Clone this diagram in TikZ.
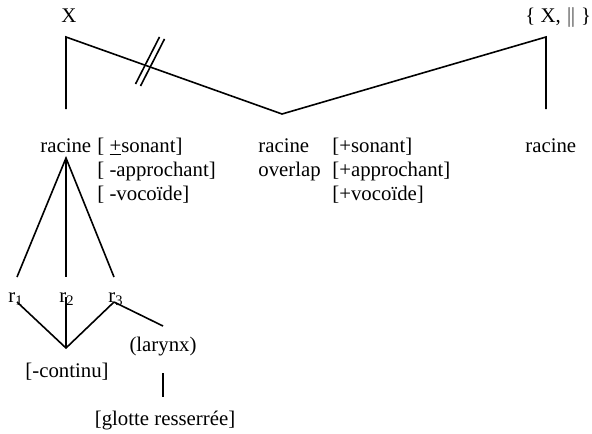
\documentclass[tikz,border=0pt]{standalone}
\usepackage{fontspec}
\setmainfont{Liberation Serif}
\usetikzlibrary{positioning,calc}

\tikzset{
    lbl/.style={inner sep=0pt, anchor=base west},
    clbl/.style={inner sep=0pt, anchor=base},
    branch/.style={line width=0.8pt}
}

\begin{document}
\begin{tikzpicture}[x=0.5pt, y=-0.5pt, every node/.style={font=\fontsize{10.4}{12.5}\selectfont}]
    \useasboundingbox (0,0) rectangle (592,433);

    % --- Top tier: X and { X, || } ---
    \node[clbl] (xslot) at (69,23) {X};
    \node[lbl] (xset) at (525,23) {\{ X, $\|$ \}};
    \coordinate (xtop) at (66,37);
    \coordinate (xbot) at (66,109);
    \coordinate (trough) at (282,114);
    \coordinate (settop) at (546,37);
    \coordinate (setbot) at (546,109);
    \draw[branch] (xbot) -- (xtop) -- (trough) -- (settop) -- (setbot);
    % Delinking mark
    \draw[branch] (135.5,84) -- (159.5,37);
    \draw[branch] (140.5,86) -- (164.5,39);

    % --- Root tier ---
    \node[lbl] (rootA) at (40,152) {racine};
    \node[lbl] (sonA) at (97,152) {[ \underline{+}sonant]};
    \node[lbl] (appA) at (97,176) {[ -approchant]};
    \node[lbl] (vocA) at (97,200) {[ -vocoïde]};

    \node[lbl] (rootB) at (258,152) {racine};
    \node[lbl] (ovlp) at (258,176) {overlap};
    \node[lbl] (sonB) at (332,152) {[+sonant]};
    \node[lbl] (appB) at (332,176) {[+approchant]};
    \node[lbl] (vocB) at (332,200) {[+vocoïde]};

    \node[lbl] (rootC) at (525,152) {racine};

    % --- Closures under the first root ---
    \coordinate (apex) at (66,158);
    \node[lbl] (r1) at (8,302) {r\textsubscript{1}};
    \node[lbl] (r2) at (59,302) {r\textsubscript{2}};
    \node[lbl] (r3) at (108,302) {r\textsubscript{3}};
    \coordinate (r1top) at (17,277);
    \coordinate (r2top) at (66,277);
    \coordinate (r3top) at (114,277);
    \draw[branch] (r1top) -- (apex) -- (r3top);
    \draw[branch] (apex) -- (r2top);

    \coordinate (r1bot) at (17,302);
    \coordinate (r2bot) at (66,297);
    \coordinate (r3bot) at (114,302);
    \coordinate (cont) at (66,348);
    \node[clbl] (contin) at (67,377) {[-continu]};
    \draw[branch] (r1bot) -- (cont) -- (r3bot);
    \draw[branch] (r2bot) -- (cont);

    % Larynx
    \node[clbl] (larynx) at (163,351) {(larynx)};
    \coordinate (laryntop) at (163,326);
    \draw[branch] (r3bot) -- (laryntop);
    \node[clbl] (glotte) at (165,425) {[glotte resserrée]};
    \draw[branch] (163,373) coordinate (lbot) -- (163,397) coordinate (gtop);

\end{tikzpicture}
\end{document}
